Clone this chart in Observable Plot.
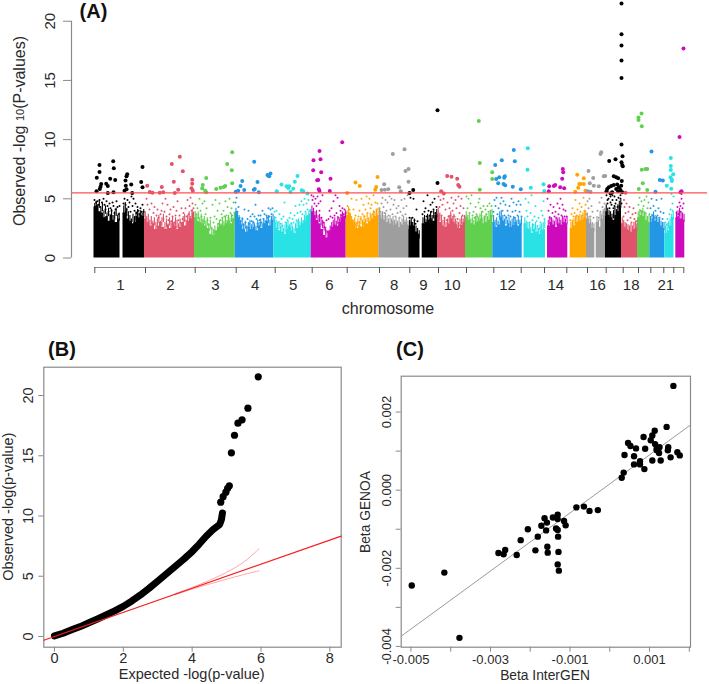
<!DOCTYPE html>
<html>
<head>
<meta charset="utf-8">
<script src="https://cdn.jsdelivr.net/npm/d3@7"></script>
<script src="https://cdn.jsdelivr.net/npm/@observablehq/plot@0.6"></script>
<style>
html,body{margin:0;padding:0;background:#fff}
#wrap{position:relative;width:709px;height:684px;overflow:hidden;font-family:"Liberation Sans",Arial,sans-serif}
#wrap>svg,#wrap>div{position:absolute}
</style>
</head>
<body>
<div id="wrap"></div>
<script>
// ---------- Panel A data (position along the genome axis, -log10 p) ----------
const palette = ["#000000","#DF536B","#61D04F","#2297E6","#28E2E5","#CD0BBC","#FFA500","#9E9E9E"];
const chromColourBreaks = [50,100,140.7,179.3,216.7,251.7,284.3,314.3,343.5,371,398.3,428.5,452,474.5,492,511,528.5,543,555.3,570.3,580.4];
const chromTicks = [0.3,51,100.7,141.7,180.7,217.7,252.7,285,315.3,344,372,399.3,426.7,450,472.3,493,511.7,528.7,544,556.3,569.3,579.3,589.3];
const chromLabels = ["1","2","3","4","5","6","7","8","9","10","12","14","16","18","21"];
const chromLabelPos = [26,76,121,160.7,198.7,235,268.3,299.7,329,357.7,413,461.3,503,536.7,571.3];
const segChrom = [0,0,1,2,3,4,5,6,7,8,8,9,10,11,12,13,14,15,15,16,17,18,19,20,21];
const segStart = [-0.5,28.5,50,100,140.7,179.3,216.7,251.7,284.3,314.3,327.7,343,371,398.3,429.5,453,475.7,492,501.7,511,527,543,555.3,570.3,581.3];
const segEnd = [25.5,50,100,140.7,179.3,216.7,251.7,284.3,314.3,325.5,343,371,398.3,427.7,451,473.3,492,500.3,511,527,543,555.3,570.3,579.5,590.3];
const segTops = [
 [4.3,4.4,3.9,3.8,3.4,3.5,3.1,3.6,3.2,3.0,3.3],
 [3.8,4.0,3.3,3.1,2.9,3.0,3.5,3.4,3.6,3.5],
 [3.3,3.0,2.7,2.9,2.4,2.7,3.0,2.6,2.4,2.8,2.5,2.9,2.7,2.4,2.6,3.0,2.7,3.1,3.3,3.8],
 [3.4,3.1,3.0,2.9,2.7,2.5,2.0,1.9,2.3,2.6,2.8,2.7,2.9,3.1,2.9,3.3],
 [3.9,3.4,2.8,2.4,2.2,2.6,2.4,2.6,2.3,2.7,2.5,2.9,3.1,2.7,3.2],
 [3.0,2.5,2.3,2.2,2.0,2.4,2.6,2.3,2.1,2.5,2.7,2.9,3.1,3.5,3.7],
 [3.9,3.6,3.2,2.9,2.4,1.9,1.7,2.3,2.6,2.8,2.7,3.0,3.4,3.5],
 [3.6,3.8,3.1,2.9,2.5,2.7,2.6,3.0,2.9,3.1,3.3,3.5,3.6],
 [3.6,3.3,3.2,3.0,2.9,3.1,2.8,2.9,2.6,2.8,3.0,2.8],
 [2.7,2.9,2.7,2.2,2.0],
 [2.9,3.0,3.2,3.3,3.1,3.6],
 [3.7,3.0,2.7,2.6,2.9,3.3,3.0,2.8,2.5,2.8,3.0],
 [3.4,3.2,2.9,2.8,3.0,3.1,3.3,2.9,3.0,3.2,3.6],
 [3.0,2.6,2.8,3.4,3.1,2.7,2.9,2.6,2.8,3.0,2.7,2.9],
 [2.9,2.5,2.4,2.1,2.4,2.2,2.0,2.3,2.4],
 [2.7,3.0,2.8,2.6,2.9,2.8,3.0,2.9],
 [2.5,2.7,3.0,3.1,3.2,3.4],
 [3.3,2.9,2.5],
 [3.0,2.6,3.3,3.6],
 [3.9,3.6,3.4,3.2,3.6,3.9,4.3],
 [2.9,2.6,2.4,2.3,2.2,2.4,2.5],
 [3.4,3.6,3.5,3.2,3.0],
 [3.0,3.3,3.1,3.0,2.7,2.5],
 [2.1,2.3,2.7,3.4],
 [3.4,3.5,3.3,3.2]
];
// uppermost dense SNPs along each segment, just above the solid mass
const segFringe = [
 [4.6,4.8,4.5,4.9,4.2,4.6,4.0,4.4,3.8,4.2,3.7,4.1,3.6,3.9,4.2,3.6,3.8],
 [4.4,4.7,4.2,3.9,3.6,3.3,3.7,3.5,3.9,4.1,3.8,4.0,3.8,4.1],
 [3.9,3.5,3.7,3.2,3.5,3.1,3.4,3.0,3.3,3.6,3.1,3.4,3.7,3.0,3.3,2.9,3.4,3.1,3.5,3.0,3.4,3.2,2.9,3.3,3.0,3.5,3.7,3.2,3.6,3.9,3.5,4.1,3.9],
 [3.9,3.6,3.9,3.4,3.7,3.3,3.5,3.1,3.4,2.9,3.2,2.6,2.4,2.7,2.3,2.9,3.2,2.9,3.4,3.1,3.5,3.2,3.6,3.3,3.7,3.4,3.8],
 [4.2,3.9,3.6,3.2,3.4,2.9,3.1,2.7,3.0,3.2,2.8,3.1,2.9,2.7,3.2,3.0,3.3,2.9,3.3,3.0,3.5,3.6,3.2,3.5,3.7],
 [3.5,3.2,2.9,3.1,2.7,2.9,2.5,2.8,3.0,3.1,2.8,3.0,2.7,2.5,2.9,3.1,3.3,3.0,3.4,3.2,3.6,3.8,3.6,3.9,4.1],
 [4.4,4.2,3.9,4.0,3.6,3.7,3.4,3.2,3.0,2.6,2.3,2.2,2.7,3.0,3.2,3.4,3.1,3.5,3.3,3.7,3.9,3.7,4.0],
 [4.0,4.3,3.7,3.5,3.2,3.4,3.0,3.3,3.1,3.5,3.2,3.6,3.3,3.7,3.4,3.8,3.6,4.0,3.8,4.1,4.2],
 [4.1,3.8,3.9,3.6,3.8,3.5,3.3,3.6,3.3,3.5,3.2,3.4,3.1,3.3,3.0,3.3,3.5,3.2,3.4,3.1],
 [3.2,3.4,3.0,3.3,2.7,2.5,2.3],
 [3.4,3.6,3.3,3.7,3.5,3.9,3.6,4.0,3.8,4.1],
 [4.2,3.8,3.5,3.2,3.4,3.0,3.3,3.6,3.9,3.5,3.7,3.3,3.1,3.0,3.3,3.5,3.3,3.6],
 [3.9,3.6,3.7,3.3,3.4,3.2,3.5,3.6,3.4,3.7,3.9,3.4,3.5,3.7,3.5,3.8,4.0,4.1],
 [3.6,3.2,3.4,3.1,3.9,4.0,3.6,3.3,3.5,3.2,3.4,3.1,3.3,3.5,3.4,3.2,3.5,3.2,3.4],
 [3.4,3.1,3.0,2.9,2.6,2.9,2.7,3.0,2.6,2.5,2.8,2.9,3.0,3.2],
 [3.2,3.5,3.4,3.2,3.1,3.4,3.3,3.4,3.2,3.5,3.4,3.3,3.5],
 [3.0,3.2,3.3,3.5,3.6,3.4,3.7,3.6,3.8,3.9,4.0],
 [3.8,3.5,3.3,3.0,2.9],
 [3.5,3.2,3.8,3.7,4.1,4.2],
 [4.5,4.2,4.0,3.9,3.7,4.0,4.3,4.1,4.5,4.8,4.9],
 [3.4,3.2,3.0,2.9,2.8,2.7,2.9,2.7,3.0,3.1,2.9],
 [3.9,4.1,4.0,4.2,3.9,3.7,3.5,3.6],
 [3.5,3.7,3.9,3.6,3.5,3.4,3.3,3.1,3.0,3.0],
 [2.7,2.9,3.1,3.3,3.7,3.9],
 [3.9,4.0,4.2,3.9,3.8,3.7]
];
const sparseSnps = [
[0,4.9],[1.5,4.7],[3,4.8],[0.5,4.3],[2,4.4],[4,4.5],[5,4.9],[6,4.3],[7.5,4.7],[9,5.0],[10,4.5],[11,4.1],[12,4.8],[13,4.4],[14,3.9],[15,4.6],[16,4.2],[17,4.0],[18,4.7],[19,4.4],[20,3.8],[21,4.1],[22,4.8],[23,4.3],[24,3.7],[25,4.4],
[29,4.6],[30,5.0],[31,4.5],[32,4.1],[33,4.9],[34,4.3],[35,4.7],[36,3.9],[37,5.2],[38,4.4],[39,5.0],[40,4.0],[41,4.6],[42,3.8],[43,4.3],[44,4.0],[45,3.7],[46,4.2],[47,3.9],[48,4.5],[49,3.9],
[52,5.0],[53,4.5],[55,4.1],[57,4.6],[59,3.8],[60,4.3],[62,3.6],[63,4.1],[64,3.4],[66,3.7],[67,4.0],[68,4.6],[69,3.3],[70,3.9],[71,5.0],[72,3.5],[73,4.5],[74,3.2],[75,3.7],[76,4.1],[77,3.1],[78,3.5],[79,4.3],[80,3.0],[81,3.6],[82,4.0],[83,4.8],[84,3.2],[85,3.6],[86,3.0],[87,4.2],[88,3.3],[89,3.8],[90,3.2],[91,4.2],[92,3.5],[93,4.9],[94,3.7],[95,4.4],[96,5.1],[97,4.0],[98,4.6],[99,4.2],
[101,4.5],[102,3.7],[103,4.2],[104,3.4],[105,5.0],[106,4.0],[107,3.5],[108,4.6],[109,3.1],[110,4.8],[111,3.7],[112,4.2],[113,3.2],[114,2.8],[115,2.4],[116,3.4],[117,2.5],[118,4.5],[119,3.0],[120,3.5],[121,4.9],[122,3.3],[123,4.0],[124,2.9],[125,4.6],[126,3.2],[127,3.7],[128,3.4],[129,4.0],[130,3.5],[131,4.8],[132,3.6],[133,4.3],[134,3.4],[135,5.0],[136,3.8],[137,4.2],[138,3.6],[139,4.7],[140,3.8],
[141,4.7],[142,5.1],[143,3.9],[144,4.3],[145,3.4],[146,3.1],[148,3.3],[149,2.8],[150,4.1],[151,3.0],[152,2.6],[153,3.3],[154,4.0],[155,2.9],[156,3.5],[157,3.1],[158,3.7],[159,3.0],[160,3.5],[161,4.5],[162,3.3],[163,2.9],[164,3.6],[165,3.2],[166,3.6],[167,3.0],[168,4.0],[169,3.3],[170,3.7],[171,3.1],[172,3.6],[173,3.4],[174,4.2],[175,3.5],[176,4.1],[177,3.7],[178,4.2],
[180,3.9],[181,3.4],[182,4.0],[183,3.0],[185,3.7],[186,2.9],[187,3.3],[188,2.7],[189,3.5],[190,4.7],[191,3.0],[192,2.7],[193,3.2],[194,2.6],[195,3.4],[196,3.8],[197,2.9],[198,3.3],[199,3.0],[200,3.6],[201,4.4],[202,3.2],[203,3.8],[204,3.1],[205,4.5],[206,3.9],[207,4.8],[208,3.7],[209,4.5],[210,5.0],[211,3.9],[212,4.6],[213,4.1],[214,4.9],[215,4.0],
[217,5.3],[218,4.9],[219,5.2],[220,4.6],[221,5.0],[222,4.4],[223,5.2],[224,4.6],[225,4.0],[226,4.8],[227,3.4],[228,5.3],[229,3.0],[230,2.6],[231,2.3],[232,3.2],[233,2.2],[234,3.3],[235,4.0],[236,3.5],[237,4.2],[238,3.4],[239,4.8],[240,3.6],[241,5.3],[242,3.8],[243,5.1],[244,3.4],[245,4.4],[246,4.0],[247,3.6],[248,4.2],[249,3.7],[250,4.1],[251,3.8],
[253,4.4],[254,3.8],[255,4.1],[256,3.5],[257,5.0],[258,3.2],[259,4.1],[260,3.0],[261,3.6],[262,4.9],[263,3.0],[264,3.5],[265,4.0],[266,3.3],[267,5.0],[268,3.7],[269,4.5],[270,3.5],[271,4.1],[272,5.2],[273,3.8],[274,4.6],[275,5.0],[276,4.2],[277,4.5],[278,3.7],[279,5.3],[280,3.9],[281,4.7],[282,4.1],[283,4.6],
[285,4.2],[286,3.9],[287,4.6],[288,5.1],[289,4.3],[290,3.8],[291,4.9],[292,4.0],[293,4.7],[294,3.6],[295,5.2],[296,4.1],[297,5.0],[298,3.7],[299,4.5],[300,4.9],[301,3.5],[302,4.2],[303,3.8],[304,4.4],[305,3.4],[306,3.9],[307,4.9],[308,3.6],[309,4.2],[310,5.0],[311,3.7],[312,4.4],[313,5.3],
[315,3.4],[316,5.1],[317,3.0],[318,3.4],[319,5.0],[320,3.2],[321,2.9],[322,4.1],[323,3.1],[328,3.7],[329,4.8],[330,3.9],[331,4.2],[332,3.5],[333,5.3],[334,4.0],[335,3.6],[336,4.5],[337,3.9],[338,4.7],[339,4.1],[340,5.0],[341,3.8],[342,4.3],
[344,5.2],[345,4.3],[346,4.9],[347,3.6],[348,4.5],[349,5.0],[350,3.4],[351,4.1],[352,3.2],[353,4.7],[354,3.5],[355,4.2],[356,3.6],[357,5.1],[358,4.0],[359,4.6],[360,3.5],[361,4.9],[362,4.2],[363,3.3],[364,5.2],[365,3.8],[366,4.4],[367,5.0],[368,3.6],[369,4.2],[370,3.5],
[372,5.2],[373,4.2],[374,5.0],[375,3.8],[376,4.6],[377,5.3],[378,3.6],[379,3.9],[380,3.4],[381,4.3],[382,3.7],[383,3.5],[384,4.7],[385,5.0],[386,4.2],[387,3.6],[388,3.9],[389,4.4],[390,3.5],[391,4.1],[392,3.7],[393,4.4],[394,3.9],[395,4.6],[396,4.0],[397,4.4],
[399,3.9],[400,4.9],[401,4.4],[402,5.1],[403,3.7],[404,4.2],[405,3.5],[406,4.6],[407,5.1],[408,4.0],[409,4.8],[410,3.6],[411,4.5],[412,3.4],[413,4.0],[414,3.6],[415,4.4],[416,3.5],[417,5.0],[418,3.9],[419,4.7],[420,3.4],[421,4.0],[422,4.5],[423,3.6],[424,4.8],[425,3.9],[426,4.5],[427,3.5],
[431,5.0],[432,4.0],[433,3.5],[434,4.7],[435,3.0],[436,3.8],[437,5.3],[438,3.2],[439,2.8],[440,3.5],[441,4.4],[442,3.1],[443,2.7],[444,3.4],[445,2.5],[446,3.0],[447,4.0],[448,3.6],[449,4.8],[450,3.3],
[453,5.0],[454,4.0],[455,3.4],[456,4.5],[457,3.3],[458,3.8],[459,4.3],[460,3.5],[461,3.9],[462,3.4],[463,4.6],[464,3.7],[465,4.2],[466,5.0],[467,3.6],[468,4.5],[469,4.1],[470,3.5],[471,4.0],[472,3.5],
[476,3.2],[477,3.7],[478,4.2],[479,3.5],[480,3.8],[481,4.9],[482,3.6],[483,4.1],[484,3.5],[485,4.6],[486,3.9],[487,4.3],[488,3.6],[489,5.1],[490,4.0],[491,4.5],
[492,3.7],[493,4.8],[494,4.2],[495,5.0],[496,3.5],[497,4.4],[498,3.9],[499,3.4],[503,4.0],[504,3.4],[505,4.7],[506,3.9],[507,5.1],[508,4.3],[509,3.8],[510,4.6],
[512,5.3],[513,4.6],[514,5.0],[515,4.2],[516,5.2],[517,4.5],[518,4.9],[519,4.2],[520,5.2],[521,4.6],[522,4.9],[523,3.9],[524,5.1],[525,4.4],[526,5.0],[527,4.6],[513,4.9],[520,4.4],[526,5.3],[516,4.7],[523,4.3],[518,5.3],
[529,3.5],[529.5,4.9],[530,4.3],[531,3.8],[532,4.6],[533,3.2],[534,3.9],[535,4.3],[536,3.4],[537,3.0],[538,3.7],[539,4.2],[540,3.3],[541,3.8],[542,3.1],
[544,4.5],[545,5.1],[546,4.0],[547,4.8],[548,3.9],[549,4.4],[550,4.9],[551,3.8],[552,5.2],[553,4.2],[554,4.7],[555,3.7],
[556,4.2],[557,5.0],[558,3.6],[559,4.4],[560,3.4],[561,4.0],[562,4.9],[563,3.6],[564,4.2],[565,3.4],[566,3.9],[567,5.0],[568,3.3],[569,3.8],
[571,3.0],[572,2.8],[573,3.3],[574,2.9],[575,3.7],[576,4.1],[577,3.4],[578,4.6],[579,5.2],[578,4.0],[577,5.4],
[582,3.8],[583,4.3],[584,3.7],[585,4.7],[586,3.9],[587,5.0],[588,4.2],[589,4.6],[587,5.4],[586,4.4]
];
const topSnps = [
[5,7.86],[5,7.27],[2.3,6.79],[2,5.63],[6.7,6.25],[6,6.03],[5.3,5.83],[11.7,6.28],[13.3,6.08],[15.7,6.7],[20.7,6.59],[18.7,8.17],[19.3,7.58],[13.3,5.5],[19,5.55],
[32.7,7.07],[32,6.9],[31,6.54],[31.3,6.11],[30,5.69],[36.7,6.2],[32,5.8],[37.7,5.5],[48,7.69],[46.7,6.42],[48,5.97],
[52.7,6.11],[55.3,5.58],[58,5.52],[67.3,6.0],[65.3,5.52],[68.7,5.55],[77.3,7.94],[85.3,8.56],[79.3,6.45],[83.7,5.77],[80.3,5.5],[88.3,7.32],[97.7,6.62],[97.7,6.28],[97,5.89],[98.3,5.69],
[108.3,6.17],[111.7,6.76],[107.7,5.89],[110.7,5.69],[111.7,5.55],[121.7,5.83],[126,5.94],[129.3,6.0],[130.7,6.08],[132.7,7.94],[137.7,8.93],[137.3,7.41],[137.7,6.31],
[141.3,5.6],[143.7,5.69],[146,6.08],[147.7,6.5],[149.7,5.75],[159.7,8.14],[160.3,5.83],[159.3,5.77],[163,6.42],[164.3,5.55],[173,7.01],[174.7,6.9],[176,7.13],[174,6.95],
[182.3,5.63],[187,6.2],[192,6.06],[194.7,6.06],[193.7,5.92],[196,5.58],[198.7,5.86],[200.3,6.45],[203,6.93],[207.3,5.72],[208.7,5.63],[213,5.46],
[219,8.25],[225,9.04],[226,8.34],[218.7,7.41],[226.7,7.24],[222.7,6.56],[223.7,6.59],[236,6.7],[224.3,5.8],[225,5.66],[235.3,5.66],[247.7,9.77],
[252.7,5.49],[261,6.37],[265.3,6.08],[280.7,5.77],[281.7,6.0],[283,6.85],
[289.7,6.23],[287,5.75],[290.3,5.77],[293.7,5.8],[298.3,8.79],[310,9.18],[311,7.35],[314,7.52],[314,6.45],[304.7,5.97],[306.3,5.63],
[318.7,5.75],[315,5.49],[343,12.48],[343,6.34],
[346.7,5.63],[349.3,5.46],[352.7,6.93],[357,6.87],[362.7,6.7],[363.7,6.17],[365,6.03],
[384.3,11.58],[385.3,8.03],[385.3,5.77],[397.7,7.24],[397.7,6.68],
[400.7,7.86],[407.3,8.25],[419.3,9.13],[420.3,8.17],[401.7,6.68],[404.7,6.82],[410.3,6.9],[409.7,6.79],[403.7,6.31],[409,6.25],[410.7,6.14],[418.3,6.03],[426.3,5.8],
[433.3,9.27],[433,7.46],[436.3,5.94],[449,6.23],[449.7,5.66],
[454.7,6.06],[454.3,5.63],[459.3,6.08],[460.7,6.17],[465.7,5.97],[469.7,5.89],[468.3,7.52],[468.7,7.24],[467.7,6.7],
[482.7,7.04],[489.3,6.73],[484.7,6.25],[486,6.25],[489.3,6.25],[483.7,5.94],[480.7,5.6],[491,5.69],
[494,7.35],[498.7,6.76],[495.3,6.31],[499.3,6.11],[504.3,6.06],[493.3,5.63],[496,5.6],[506.7,8.93],[506,8.79],[509.3,6.9],[510.7,6.93],
[527,21.49],[527,18.9],[527,17.94],[527,16.68],[527,15.21],[527,9.58],[528,8.59],[514.7,8.2],[521,8.34],[527,8.08],[527.7,7.86],[528.3,7.75],[519.3,6.9],[521.7,6.82],[523.7,6.73],[527.3,6.5],[519.3,6.17],[522.7,6.2],[526.7,6.11],[512.7,5.83],[514.3,5.97],[516.7,6.08],[512,5.63],[517.7,5.55],[521.7,5.83],[523.7,5.63],[526,5.75],[527.7,5.55],[524.3,5.97],[516,5.46],
[531,5.52],
[544,11.86],[544,11.66],[547,12.2],[547.3,11.13],[544.3,5.83],[547.3,7.46],[551,7.52],[552.7,7.52],[548.3,6.31],[552.7,5.75],
[557,8.99],[565.3,6.59],[568.3,6.54],[561,5.6],
[576.3,8.45],[576.3,7.77],[576.3,7.44],[578.7,7.07],[576,6.82],[577.3,6.62],[577.3,6.5],[572.3,6.11],[576.7,5.86],
[589,17.69],[585,10.23],[587,5.63],[586,5.55]
];
const genomeLine = [5.5];

// ---------- Panel B data ----------
const qqCurveExpected = [0,0.25,0.5,0.75,1,1.25,1.5,1.75,2,2.25,2.5,2.75,3,3.25,3.5,3.75,4,4.2,4.4,4.6,4.8,4.85,4.88];
const qqCurveObserved = [0.05,0.27,0.55,0.82,1.14,1.45,1.78,2.12,2.5,2.95,3.45,4.0,4.6,5.2,5.8,6.4,7.05,7.65,8.3,8.85,9.3,9.7,10.25];
const qqTailExpected = [4.83,4.9,4.98,5.03,5.08,5.14,5.23,5.33,5.45,5.62,5.92];
const qqTailObserved = [11.15,11.6,11.98,12.3,12.5,15.24,16.7,17.7,17.98,18.95,21.55];
const ciExpected = [3.5,4,4.5,5,5.5,5.94];
const ciUpper = [3.55,4.05,4.65,5.3,6.1,7.27];
const ciLower = [3.45,3.95,4.35,4.75,5.15,5.45];
const diagonal = [-0.31,8.33];

// ---------- Panel C data (betas × 1000) ----------
const betaInterGEN = [1.60,1.43,1.13,1.07,.85,1.03,.46,.52,.66,.89,1.14,1.25,1.18,1.18,1.47,1.46,1.70,1.76,1.53,1.24,1.28,1.07,.37,.61,.61,.76,.76,.87,.35,.30,-.84,-.65,-.51,-.30,-1.31,-1.43,-1.31,-1.64,-1.58,-1.15,-1.11,-1.72,-2.06,-1.60,-1.35,-1.31,-1.81,-1.30,-2.24,-1.57,-1.87,-1.56,-1.29,-2.63,-2.80,-2.67,-2.34,-1.31,-1.28,-4.16,-4.98,-3.78];
const betaGENOA = [2.67,1.62,1.52,1.40,1.36,1.28,1.21,1.13,1.07,1.06,1.18,1.10,1.06,1.02,1.10,1.02,.97,.89,.84,.95,.76,.76,.90,.87,.66,.74,.66,.54,.45,.32,-.44,-.42,-.53,-.51,-.63,-.70,-.74,-.72,-.83,-.79,-.90,-.91,-1.00,-1.03,-.98,-1.02,-1.19,-1.19,-1.28,-1.45,-1.54,-1.60,-1.58,-1.53,-1.61,-1.64,-1.66,-1.90,-2.06,-2.11,-2.44,-3.78];
const fitX = [-5.22,2.03];
const fitY = [-3.72,1.67];

// ---------- styling constants ----------
const axisGrey = "#8a8a8a", ink = "#2a2a2a", font = "'Liberation Sans',Arial,sans-serif";
const wrap = document.getElementById("wrap");
const chromColour = p => palette[d3.bisectRight(chromColourBreaks, p) % 8];
function place(node, left, top){ node.style.left = left+"px"; node.style.top = top+"px"; node.style.position="absolute"; wrap.appendChild(node); }
const baseStyle = {fontFamily:font, background:"transparent", overflow:"visible"};

// ---------- Panel A ----------
const massRows = segStart.flatMap((s,i)=>{
  const t = segTops[i], step = (segEnd[i]-s)/t.length, colour = palette[segChrom[i]%8];
  const rows = t.map((v,j)=>({pos:s+j*step, top:v, seg:i, colour}));
  rows.push({pos:segEnd[i], top:t[t.length-1], seg:i, colour});
  return rows;
});
const fringeRows = segStart.flatMap((s,i)=>{
  const t = segFringe[i], step = (segEnd[i]-s)/t.length, colour = palette[segChrom[i]%8];
  return t.map((v,j)=>({pos:s+(j+0.5)*step, y:v, colour}));
});
const yLabA = [0,5,10,15,20];
const plotA = Plot.plot({
  width:709, height:330, marginLeft:71, marginRight:2, marginTop:0, marginBottom:63,
  style:baseStyle,
  x:{domain:[-23,613], axis:null}, y:{domain:[-0.8,21.75], axis:null}, color:{type:"identity"},
  marks:[
    Plot.areaY(massRows,{x:"pos",y1:0,y2:"top",z:"seg",fill:"colour",curve:"step-after"}),
    Plot.ruleX(fringeRows,{x:"pos",y1:d=>d.y-0.7,y2:"y",stroke:"colour",strokeWidth:1.1}),
    Plot.dot(sparseSnps,{x:d=>d[0],y:d=>d[1],r:1,fill:d=>chromColour(d[0])}),
    Plot.dot(topSnps,{x:d=>d[0],y:d=>d[1],r:2,fill:d=>chromColour(d[0])}),
    Plot.ruleY(genomeLine,{stroke:"#ff5050",strokeWidth:1.4}),
    Plot.ruleX([-23],{y1:0,y2:20,stroke:axisGrey,strokeWidth:1.2}),
    Plot.axisY(yLabA,{anchor:"left",tickSize:8,tickFormat:()=>"",label:null,stroke:axisGrey}),
    Plot.text(yLabA,{x:()=>-23,y:d=>d,dx:-21,text:d=>String(d),rotate:-90,fontSize:15,fill:ink,lineAnchor:"middle",textAnchor:"middle"}),
    Plot.ruleY([-0.8],{x1:chromTicks[0],x2:chromTicks[chromTicks.length-1],stroke:axisGrey,strokeWidth:1.2}),
    Plot.axisX(chromTicks,{anchor:"bottom",tickSize:6,tickFormat:()=>"",label:null,stroke:"#555"}),
    Plot.text(chromLabels,{x:(d,i)=>chromLabelPos[i],y:()=>-0.8,dy:18,text:d=>d,fontSize:15,fill:ink})
  ]
});
place(plotA,0,0);

// ---------- Panel B ----------
const idx = a => d3.range(a.length);
const xLabB=[0,2,4,6,8], yLabB=[0,5,10,15,20];
const plotB = Plot.plot({
  width:350, height:349, marginLeft:43.3, marginRight:9.3, marginTop:31.7, marginBottom:37.3,
  style:baseStyle,
  x:{domain:[-0.31,8.33], axis:null}, y:{domain:[-0.89,22.35], axis:null},
  marks:[
    Plot.frame({stroke:axisGrey,strokeWidth:1.2}),
    Plot.axisX(xLabB,{anchor:"bottom",tickSize:5,tickFormat:()=>"",label:null,stroke:axisGrey}),
    Plot.axisY(yLabB,{anchor:"left",tickSize:5,tickFormat:()=>"",label:null,stroke:axisGrey}),
    Plot.line(idx(qqCurveExpected),{x:i=>qqCurveExpected[i],y:i=>qqCurveObserved[i],stroke:"#000",strokeWidth:7,strokeLinecap:"round",strokeLinejoin:"round"}),
    Plot.dot(idx(qqTailExpected),{x:i=>qqTailExpected[i],y:i=>qqTailObserved[i],r:3.6,fill:"#000"}),
    Plot.line(idx(ciExpected),{x:i=>ciExpected[i],y:i=>ciUpper[i],stroke:"#ffa8a8",strokeWidth:1,curve:"basis"}),
    Plot.line(idx(ciExpected),{x:i=>ciExpected[i],y:i=>ciLower[i],stroke:"#ffa8a8",strokeWidth:1,curve:"basis"}),
    Plot.line(diagonal,{x:d=>d,y:d=>d,stroke:"#f42020",strokeWidth:1.2}),
    Plot.text(xLabB,{x:d=>d,y:()=>-0.89,dy:11,text:d=>String(d),fontSize:14.5,fill:ink}),
    Plot.text(yLabB,{x:()=>-0.31,y:d=>d,dx:-15,text:d=>String(d),rotate:-90,fontSize:14.5,fill:ink,lineAnchor:"middle",textAnchor:"middle"})
  ]
});
place(plotB,0,335);

// ---------- Panel C ----------
const xTicksC=[-5,-4,-3,-2,-1,0,1,2], xLabC=[-5,-3,-1,1];
const yTicksC=[-4,-3,-2,-1,0,1,2], yLabC=[-4,-2,0,2];
const fmt3 = d3.format(".3f"), fmtBeta = v => fmt3(v/1000).replace("\u2212","-");
const plotC = Plot.plot({
  width:359, height:349, marginLeft:50.7, marginRight:19, marginTop:40.7, marginBottom:37.3,
  style:baseStyle,
  x:{domain:[-5.245,2.03], axis:null}, y:{domain:[-4.02,2.918], axis:null},
  marks:[
    Plot.frame({stroke:axisGrey,strokeWidth:1.2}),
    Plot.axisX(xTicksC,{anchor:"bottom",tickSize:5,tickFormat:()=>"",label:null,stroke:axisGrey}),
    Plot.axisY(yTicksC,{anchor:"left",tickSize:5,tickFormat:()=>"",label:null,stroke:axisGrey}),
    Plot.line(idx(fitX),{x:i=>fitX[i],y:i=>fitY[i],stroke:"#9a9a9a",strokeWidth:1}),
    Plot.dot(idx(betaInterGEN),{x:i=>betaInterGEN[i],y:i=>betaGENOA[i],r:3.2,fill:"#000"}),
    Plot.text(xLabC,{x:d=>d,y:()=>-4.02,dy:13,text:fmtBeta,fontSize:13,fill:ink}),
    Plot.text(yLabC,{x:()=>-5.245,y:d=>d,dx:-14,text:fmtBeta,rotate:-90,fontSize:13,fill:ink,lineAnchor:"middle",textAnchor:"middle"})
  ]
});
place(plotC,350,335);

// ---------- Titles ----------
const over = d3.select(wrap).append("svg").attr("width",709).attr("height",684)
  .style("left","0").style("top","0").attr("font-family",font).attr("fill",ink);
const addText = (s,x,y,size,opts={}) => over.append("text").attr("x",x).attr("y",y)
  .attr("font-size",size).attr("text-anchor",opts.anchor||"middle").attr("font-weight",opts.bold?"bold":"normal")
  .attr("dominant-baseline","middle").attr("fill",opts.bold?"#111":ink)
  .attr("transform",opts.rot?`rotate(-90 ${x} ${y})`:null).text(s);
addText("(A)",93.5,13,20,{bold:true});
addText("(B)",62,351,20,{bold:true});
addText("(C)",410,351,20,{bold:true});
addText("chromosome",388,310,16);
addText("Expected -log(p-value)",191.7,675,14.5);
addText("Observed -log(p-value)",8.8,506.7,14.5,{rot:true});
addText("Beta InterGEN",545,676,13.8);
addText("Beta GENOA",366,512,13.8,{rot:true});
const yt = addText("",20.7,131,16,{rot:true});
yt.append("tspan").text("Observed -log ");
yt.append("tspan").attr("font-size",11).text("10");
yt.append("tspan").text("(P-values)");
</script>
</body>
</html>
